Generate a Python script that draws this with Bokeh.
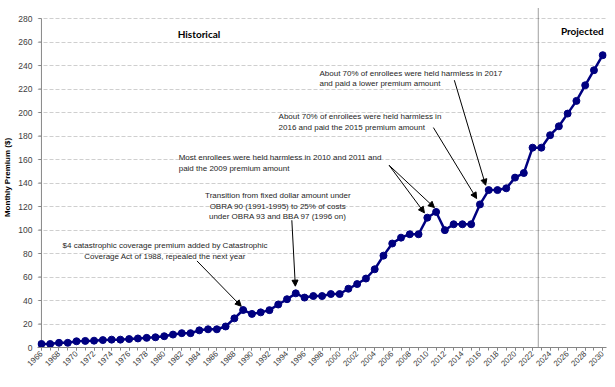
from bokeh.plotting import figure
from bokeh.models import Range1d, FixedTicker, SingleIntervalTicker, Arrow, NormalHead, ColumnDataSource
from bokeh.core.properties import value
from bokeh.embed import file_html
from bokeh.resources import INLINE

# ---- data ----
years = list(range(1966, 2031))
premiums = [3.0, 3.0, 4.0, 4.0, 5.3, 5.6, 5.8, 6.3, 6.7, 6.7,
            7.2, 7.7, 8.2, 8.7, 9.6, 11.0, 12.2, 12.2, 14.6, 15.5,
            15.5, 17.9, 24.8, 31.9, 28.6, 29.9, 31.8, 36.6, 41.1, 46.1,
            42.5, 43.8, 43.8, 45.5, 45.5, 50.0, 54.0, 58.7, 66.6, 78.2,
            88.5, 93.5, 96.4, 96.4, 110.5, 115.4, 99.9, 104.9, 104.9, 104.9,
            121.8, 134.0, 134.0, 135.5, 144.6, 148.5, 170.1, 170.1, 180.7, 188.3,
            199.1, 209.9, 223.2, 236.0, 248.8]
y_ticks = list(range(0, 281, 20))
split_year = 2022.65

section_text = ["Historical", "Projected"]
section_x = [1983.96, 2027.67]
section_y = [267.2, 269.4]

ann_text = [
    "$4 catastrophic coverage premium added by Catastrophic\nCoverage Act of 1988, repealed the next year",
    "Transition from fixed dollar amount under\nOBRA 90 (1991-1995) to 25% of costs\nunder OBRA 93 and BBA 97 (1996 on)",
    "Most enrollees were held harmless in 2010 and 2011 and\npaid the 2009 premium amount",
    "About 70% of enrollees were held harmless in\n2016 and paid the 2015 premium amount",
    "About 70% of enrollees were held harmless in 2017\nand paid a lower premium amount",
]
ann_x = [1980.09, 1992.96, 1981.65, 1993.04, 1997.7]
ann_y = [90.5, 133.0, 165.4, 200.3, 237.1]
ann_align = ["center", "center", "left", "left", "left"]

arr_x0 = [1983.73, 1994.55, 2005.64, 2005.64, 2010.69, 2013.08]
arr_y0 = [73.7, 108.3, 155.1, 155.1, 187.2, 227.5]
arr_x1 = [1988.78, 1994.95, 2009.67, 2010.81, 2015.62, 2016.65]
arr_y1 = [35.1, 52.2, 114.6, 119.1, 126.8, 138.1]

# ---- figure ----
X0, X1 = 1965.55, 2030.43
Y1 = 289.4
p = figure(width=612, height=385, output_backend="svg", toolbar_location=None,
           x_range=Range1d(X0, X1), y_range=Range1d(0, Y1),
           min_border_left=0, min_border_right=6, min_border_top=7, min_border_bottom=38)
p.outline_line_color = None
p.background_fill_color = "white"
p.border_fill_color = "white"
p.xgrid.grid_line_color = None
p.ygrid.ticker = FixedTicker(ticks=y_ticks)
p.ygrid.grid_line_color = "#cfcfcf"
p.ygrid.grid_line_dash = "4 2"

# x axis
p.xaxis.ticker = SingleIntervalTicker(interval=2, num_minor_ticks=2)
p.xaxis.major_label_orientation = 0.785
p.xaxis.axis_line_color = "#868686"
p.xaxis.major_tick_line_color = "#868686"
p.xaxis.minor_tick_line_color = "#868686"
p.xaxis.major_tick_in = 0
p.xaxis.major_tick_out = 3
p.xaxis.minor_tick_in = 0
p.xaxis.minor_tick_out = 3
p.xaxis.major_label_text_font = "Liberation Sans"
p.xaxis.major_label_text_font_size = "8px"
p.xaxis.major_label_text_color = "#404040"
p.xaxis.major_label_standoff = 2

# y axis
p.yaxis.ticker = FixedTicker(ticks=y_ticks)
p.yaxis.axis_line_color = None
p.yaxis.major_tick_line_color = None
p.yaxis.minor_tick_line_color = None
p.yaxis.major_tick_in = 0
p.yaxis.major_tick_out = 3
p.yaxis.major_label_text_font = "Liberation Sans"
p.yaxis.major_label_text_font_size = "8.5px"
p.yaxis.major_label_text_color = "#404040"
p.yaxis.major_label_standoff = 2
p.yaxis.axis_label = "Monthly Premium ($)"
p.yaxis.axis_label_text_font = "Liberation Sans"
p.yaxis.axis_label_text_font_style = "bold"
p.yaxis.axis_label_text_font_size = "8px"
p.yaxis.axis_label_text_color = "black"
p.yaxis.axis_label_standoff = 3

# own y axis line at the first category (stops at 280), with its ticks
p.segment(x0=[years[0]], y0=[0], x1=[years[0]], y1=[y_ticks[-1]], line_color="#868686", line_width=1)
p.ray(x=[years[0]] * len(y_ticks), y=y_ticks, length=3, length_units="screen", angle=3.14159265,
      line_color="#868686", line_width=1)

# historical / projected divider
p.segment(x0=[split_year], y0=[0], x1=[split_year], y1=[Y1], line_color="#404040",
          line_width=1, line_dash="1 1")

# series
src = ColumnDataSource(dict(year=years, prem=premiums))
p.line("year", "prem", source=src, line_color="#000080", line_width=2.5)
p.scatter("year", "prem", source=src, size=7, fill_color="#000080", line_color="#000080")

# section headings
p.text(x=section_x, y=section_y, text=section_text, text_font=value("Lato"),
       text_font_style="bold", text_font_size="10px", text_color="black",
       text_align="center", text_baseline="middle")

# annotations
asrc = ColumnDataSource(dict(x=ann_x, y=ann_y, t=ann_text, a=ann_align))
p.text(x="x", y="y", text="t", text_align="a", source=asrc, text_font=value("Liberation Sans"),
       text_font_size="8px", text_color="#262626", text_baseline="top", text_line_height=1.15)

arsrc = ColumnDataSource(dict(x0=arr_x0, y0=arr_y0, x1=arr_x1, y1=arr_y1))
p.add_layout(Arrow(x_start="x0", y_start="y0", x_end="x1", y_end="y1", source=arsrc,
                   line_color="black", line_width=1,
                   end=NormalHead(size=6, fill_color="black", line_color="black")))

open("out.html", "w").write(file_html(p, INLINE))
